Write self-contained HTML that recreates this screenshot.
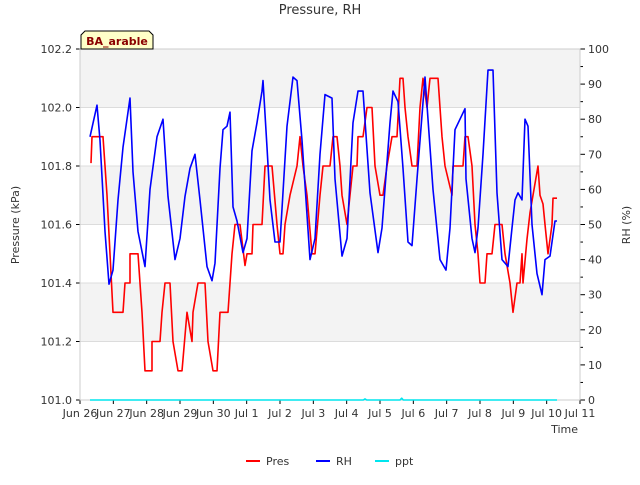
<!DOCTYPE html>
<html><head><meta charset="utf-8"><style>
body{margin:0;background:#fff;font-family:"Liberation Sans","DejaVu Sans",sans-serif}
</style></head><body>
<svg id="c" width="640" height="480" xmlns="http://www.w3.org/2000/svg" font-family="DejaVu Sans, Liberation Sans, sans-serif"></svg>
<script>
const xTickLabels=["Jun 26","Jun 27","Jun 28","Jun 29","Jun 30","Jul 1","Jul 2","Jul 3","Jul 4","Jul 5","Jul 6","Jul 7","Jul 8","Jul 9","Jul 10","Jul 11"];
const leftTicks=[101.0,101.2,101.4,101.6,101.8,102.0,102.2];
const rightTicks=[0,10,20,30,40,50,60,70,80,90,100];
const presDays=[0.33,0.36,0.69,0.81,0.9,0.99,1.29,1.35,1.5,1.5,1.74,1.86,1.95,2.16,2.16,2.4,2.46,2.55,2.7,2.79,2.94,3.06,3.21,3.36,3.39,3.54,3.75,3.84,3.99,4.11,4.2,4.44,4.56,4.65,4.8,4.95,5.01,5.16,5.19,5.46,5.55,5.76,5.91,6.0,6.09,6.15,6.3,6.51,6.6,6.69,6.81,6.96,7.05,7.2,7.29,7.5,7.59,7.71,7.8,7.86,8.01,8.1,8.19,8.31,8.34,8.49,8.61,8.76,8.85,9.0,9.09,9.21,9.36,9.51,9.6,9.69,9.75,9.84,9.96,10.11,10.2,10.29,10.41,10.5,10.74,10.86,10.95,11.16,11.19,11.49,11.55,11.64,11.76,11.85,11.94,12.0,12.15,12.21,12.36,12.45,12.66,12.75,12.9,12.99,13.11,13.2,13.26,13.29,13.41,13.5,13.59,13.74,13.8,13.89,13.95,14.04,14.16,14.19,14.31];
const presVals=[101.81,101.9,101.9,101.7,101.5,101.3,101.3,101.4,101.4,101.5,101.5,101.3,101.1,101.1,101.2,101.2,101.3,101.4,101.4,101.2,101.1,101.1,101.3,101.2,101.3,101.4,101.4,101.2,101.1,101.1,101.3,101.3,101.5,101.6,101.6,101.46,101.5,101.5,101.6,101.6,101.8,101.8,101.6,101.5,101.5,101.6,101.7,101.8,101.9,101.8,101.7,101.5,101.5,101.7,101.8,101.8,101.9,101.9,101.8,101.7,101.6,101.7,101.8,101.8,101.9,101.9,102.0,102.0,101.8,101.7,101.7,101.8,101.9,101.9,102.1,102.1,102.0,101.9,101.8,101.8,102.0,102.1,102.0,102.1,102.1,101.9,101.8,101.7,101.8,101.8,101.9,101.9,101.8,101.6,101.5,101.4,101.4,101.5,101.5,101.6,101.6,101.5,101.4,101.3,101.4,101.4,101.5,101.4,101.55,101.64,101.7,101.8,101.7,101.67,101.6,101.5,101.6,101.69,101.69];
const rhDays=[0.3,0.51,0.6,0.75,0.87,0.99,1.14,1.29,1.5,1.59,1.74,1.95,2.1,2.31,2.49,2.64,2.85,3.0,3.15,3.3,3.45,3.6,3.81,3.96,4.05,4.2,4.29,4.41,4.5,4.59,4.71,4.89,5.01,5.16,5.31,5.46,5.49,5.61,5.7,5.85,6.0,6.21,6.39,6.51,6.66,6.9,7.05,7.2,7.35,7.56,7.65,7.86,8.01,8.19,8.34,8.49,8.7,8.94,9.06,9.3,9.39,9.54,9.69,9.84,9.96,10.11,10.35,10.44,10.59,10.8,10.98,11.1,11.25,11.4,11.55,11.58,11.76,11.85,11.94,12.09,12.24,12.39,12.51,12.66,12.84,12.96,13.05,13.14,13.26,13.35,13.44,13.56,13.71,13.86,13.95,14.1,14.25,14.31];
const rhVals=[75,84,74,48,33,37,57,72,86,65,48,38,60,75,80,58,40,46,58,66,70,57,38,34,39,66,77,78,82,55,51,42,46,71,79,88,91,72,57,45,45,78,92,91,74,40,46,70,87,86,63,41,46,79,88,88,59,42,49,79,88,85,66,45,44,63,92,80,60,40,37,49,77,80,83,63,46,42,49,70,94,94,59,40,38,49,57,59,57,80,78,50,36,30,40,41,51,51];
const pptDays=[0.3,8.5,8.55,8.6,9.6,9.65,9.7,14.31];
const pptVals=[0,0,0.3,0,0,0.5,0,0];

const svg=document.getElementById('c');
const NS="http://www.w3.org/2000/svg";
const L=80,R=580,T=49,B=400;
const xS=d=>L+d*(R-L)/15;
const yP=v=>B-(v-101.0)/1.2*(B-T);
const yR=v=>B-v/100*(B-T);
function el(tag,attrs,name,text){const e=document.createElementNS(NS,tag);for(const k in attrs)e.setAttribute(k,attrs[k]);


if(text!==undefined)e.textContent=text;svg.appendChild(e);return e;}
el('rect',{x:L,y:T,width:R-L,height:B-T,fill:'#fff'},'plot-background');
for(let i=0;i<6;i+=2){el('rect',{x:L,y:yP(leftTicks[i+2]),width:R-L,height:yP(leftTicks[i+1])-yP(leftTicks[i+2]),fill:'#f3f3f3'},'plot-band');}
leftTicks.forEach(v=>{el('line',{x1:L,x2:R,y1:yP(v),y2:yP(v),stroke:'#dcdcdc','stroke-width':1},'grid-line');
el('line',{x1:L-4,x2:L,y1:yP(v),y2:yP(v),stroke:'#000'},'left-tick');
el('text',{x:L-8,y:yP(v)+4,'text-anchor':'end','font-size':11,fill:'#333'},'left-tick-label',v.toFixed(1));});
for(let v=0;v<=100;v+=5){el('line',{x1:R,x2:R+(v%10?3:5),y1:yR(v),y2:yR(v),stroke:'#000'},'right-tick');}
rightTicks.forEach(v=>{el('text',{x:R+8,y:yR(v)+4,'font-size':11,fill:'#333'},'right-tick-label',String(v));});
xTickLabels.forEach((t,i)=>{el('line',{x1:xS(i),x2:xS(i),y1:B,y2:B+4,stroke:'#000'},'x-tick');
el('text',{x:xS(i),y:B+17,'text-anchor':'middle','font-size':11,fill:'#333'},'x-tick-label',t);});
el('rect',{x:L,y:T,width:R-L,height:B-T,fill:'none',stroke:'#ccc'},'plot-frame');
function line(days,vals,ys,col,name){el('polyline',{points:days.map((d,i)=>xS(d).toFixed(1)+','+ys(vals[i]).toFixed(1)).join(' '),fill:'none',stroke:col,'stroke-width':1.6,'stroke-linejoin':'round'},name);}
line(pptDays,pptVals,yR,'#00e5ee','ppt-line');
line(presDays,presVals,yP,'#ff0000','pres-line');
line(rhDays,rhVals,yR,'#0000ff','rh-line');
el('text',{x:320,y:14,'text-anchor':'middle','font-size':13,fill:'#333'},'chart-title','Pressure, RH');
el('text',{x:19,y:225,'text-anchor':'middle','font-size':11,fill:'#333',transform:'rotate(-90 19 225)'},'left-axis-title','Pressure (kPa)');
el('text',{x:630,y:225,'text-anchor':'middle','font-size':11,fill:'#333',transform:'rotate(-90 630 225)'},'right-axis-title','RH (%)');
el('text',{x:578,y:433,'text-anchor':'end','font-size':11,fill:'#333'},'x-axis-title','Time');
el('path',{d:'M81,49 L81,35 L85,31 L149,31 L153,35 L153,49 Z',fill:'#ffffc8',stroke:'#000'},'site-label-box');
el('text',{x:117,y:45,'text-anchor':'middle','font-size':11,'font-weight':'bold',fill:'#8b0000'},'site-label','BA_arable');
[['Pres','#ff0000',246],['RH','#0000ff',316],['ppt','#00e5ee',375]].forEach(([n,c,x])=>{
el('line',{x1:x,x2:x+14,y1:461,y2:461,stroke:c,'stroke-width':2},'legend-swatch-'+n.toLowerCase());
el('text',{x:x+20,y:465,'font-size':11,fill:'#333'},'legend-label-'+n.toLowerCase(),n);});
</script>
</body></html>
